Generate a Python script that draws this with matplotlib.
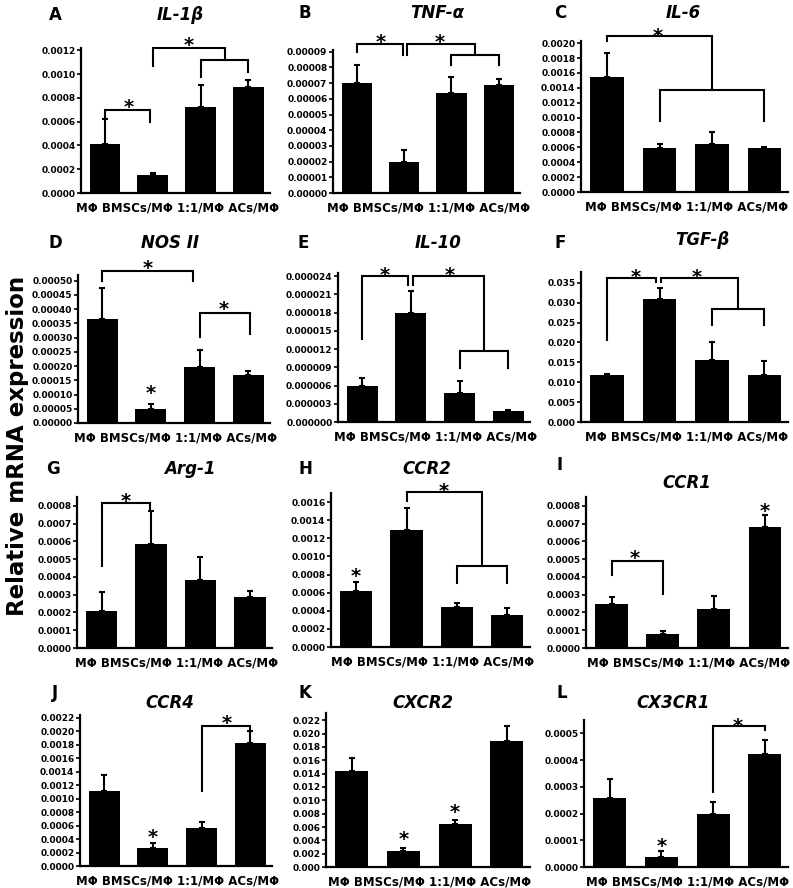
import numpy as np
import matplotlib.pyplot as plt

plt.rcParams['font.family'] = ['DejaVu Sans']
plt.rcParams['font.weight'] = 'bold'

groups = ["MΦ", "BMSCs/MΦ", "1:1/MΦ", "ACs/MΦ"]
genes = ["IL-1β", "TNF-α", "IL-6", "NOS II", "IL-10", "TGF-β",
         "Arg-1", "CCR2", "CCR1", "CCR4", "CXCR2", "CX3CR1"]
letters = list("ABCDEFGHIJKL")

# mean and (upper) error of each group, per gene
il1b_mean = [0.00041, 0.000149, 0.000724, 0.000895]
il1b_err = [0.000215, 0.000022, 0.000188, 0.000059]
tnfa_mean = [7.02e-5, 1.96e-5, 6.4e-5, 6.91e-5]
tnfa_err = [1.13e-5, 0.81e-5, 1.0e-5, 0.37e-5]
il6_mean = [0.001544, 0.00059, 0.00064, 0.00059]
il6_err = [0.000322, 0.00005, 0.000165, 0.000014]
nos2_mean = [0.000367, 0.0000505, 0.000197, 0.000168]
nos2_err = [0.000106, 0.0000152, 0.000061, 0.000014]
il10_mean = [6.0e-6, 18.0e-6, 4.7e-6, 1.8e-6]
il10_err = [1.2e-6, 3.6e-6, 2.0e-6, 0.2e-6]
tgfb_mean = [0.0117, 0.0308, 0.0157, 0.0118]
tgfb_err = [0.0003, 0.0029, 0.0045, 0.0035]
arg1_mean = [0.000206, 0.000586, 0.00038, 0.000285]
arg1_err = [0.000107, 0.000188, 0.000131, 0.000037]
ccr2_mean = [0.000622, 0.00129, 0.000444, 0.000352]
ccr2_err = [0.000093, 0.00024, 0.000045, 0.000081]
ccr1_mean = [0.000247, 0.0000772, 0.000217, 0.00068]
ccr1_err = [0.000041, 0.0000188, 0.000077, 0.00007]
ccr4_mean = [0.00111, 0.000272, 0.000568, 0.00183]
ccr4_err = [0.00024, 0.000064, 0.000084, 0.00017]
cxcr2_mean = [0.0144, 0.0024, 0.0065, 0.01885]
cxcr2_err = [0.002, 0.0005, 0.0006, 0.00235]
cx3cr1_mean = [0.000259, 0.0000375, 0.000198, 0.000423]
cx3cr1_err = [0.000072, 0.0000225, 0.000046, 0.000052]

# y axis: tick step, last tick, axis top, decimals
tick_step = [0.0002, 0.00001, 0.0002, 0.00005, 0.000003, 0.005,
             0.0001, 0.0002, 0.0001, 0.0002, 0.002, 0.0001]
tick_max = [0.0012, 0.00009, 0.002, 0.0005, 0.000024, 0.035,
            0.0008, 0.0016, 0.0008, 0.0022, 0.022, 0.0005]
y_top = [0.00122, 0.0000911, 0.00203, 0.00052, 0.0000245, 0.0377,
         0.00085, 0.0017, 0.00085, 0.00224, 0.0231, 0.00055]
decimals = [4, 5, 4, 5, 6, 3, 4, 4, 4, 4, 3, 4]

# significance brackets: (x1, x2, y, leg1 end, leg2 end), stars: (x, y)
il1b_br = [(0, 0.95, 0.000701, 0.000625, 0.000597), (1, 2.5, 0.00122, 0.00107, 0.00112),
           (2, 3, 0.00112, 0.00098, 0.00102)]
il1b_st = [(0.5, 0.00077), (1.75, 0.00129)]
tnfa_br = [(0, 0.97, 0.0000947, 0.000090, 0.0000879), (1.06, 2.5, 0.0000947, 0.0000879, 0.0000879),
           (2, 3, 0.0000879, 0.0000815, 0.0000815)]
tnfa_st = [(0.5, 0.0000996), (1.75, 0.0000996)]
il6_br = [(0, 2, 0.0021, 0.00203, 0.001365), (1, 3, 0.001365, 0.00096, 0.00096)]
il6_st = [(0.97, 0.00218)]
nos2_br = [(0, 1.87, 0.000534, 0.0005, 0.0005), (2, 3.03, 0.000387, 0.000303, 0.000312)]
nos2_st = [(0.94, 0.000565), (2.5, 0.00042), (1, 0.000124)]
il10_br = [(0, 0.94, 24e-6, 13.7e-6, 22.6e-6), (1.04, 2.5, 24e-6, 22.6e-6, 11.7e-6),
           (2, 3, 11.7e-6, 8.85e-6, 8.85e-6)]
il10_st = [(0.47, 25.1e-6), (1.8, 25.1e-6)]
tgfb_br = [(0, 0.93, 0.0362, 0.0205, 0.0352), (1.03, 2.5, 0.0362, 0.0352, 0.0285),
           (2, 3, 0.0285, 0.0243, 0.0243)]
tgfb_st = [(0.55, 0.038), (1.7, 0.038)]
arg1_br = [(0, 0.98, 0.000818, 0.000463, 0.000777)]
arg1_st = [(0.49, 0.00086)]
ccr2_br = [(1, 2.5, 0.001715, 0.00161, 0.000889), (2, 3, 0.000889, 0.000704, 0.000704)]
ccr2_st = [(1.73, 0.00179), (0, 0.00085)]
ccr1_br = [(0, 1, 0.000492, 0.00041, 0.000303)]
ccr1_st = [(0.46, 0.00054), (3, 0.000806)]
ccr4_br = [(2, 3, 0.00207, 0.00112, 0.00201)]
ccr4_st = [(2.52, 0.00221), (1, 0.00051)]
cxcr2_br = []
cxcr2_st = [(1, 0.005), (2, 0.0091)]
cx3cr1_br = [(2, 3, 0.000528, 0.00028, 0.000512)]
cx3cr1_st = [(2.48, 0.00055), (1, 0.0001)]

means = [il1b_mean, tnfa_mean, il6_mean, nos2_mean, il10_mean, tgfb_mean,
         arg1_mean, ccr2_mean, ccr1_mean, ccr4_mean, cxcr2_mean, cx3cr1_mean]
errs = [il1b_err, tnfa_err, il6_err, nos2_err, il10_err, tgfb_err,
        arg1_err, ccr2_err, ccr1_err, ccr4_err, cxcr2_err, cx3cr1_err]
brackets = [il1b_br, tnfa_br, il6_br, nos2_br, il10_br, tgfb_br,
            arg1_br, ccr2_br, ccr1_br, ccr4_br, cxcr2_br, cx3cr1_br]
stars = [il1b_st, tnfa_st, il6_st, nos2_st, il10_st, tgfb_st,
         arg1_st, ccr2_st, ccr1_st, ccr4_st, cxcr2_st, cx3cr1_st]

W, H = 793, 888
fig = plt.figure(figsize=(W / 100, H / 100), dpi=100)

# axes boxes in pixels: left, bottom, right, top
boxes = [(81, 193, 270, 48), (333, 193, 520, 50), (581, 192, 788, 41),
         (78, 423, 270, 275), (338, 422, 530, 273), (581, 422, 788, 272),
         (77, 648, 272, 497), (331, 647, 530, 493), (586, 648, 788, 497),
         (80, 866, 272, 715), (326, 867, 530, 713), (584, 867, 788, 720)]
# panel letter and title centres in pixels
letter_pos = [(55, 15), (305, 13), (560, 13), (55, 243), (303, 243), (560, 243),
              (53, 469), (305, 469), (560, 465), (55, 693), (305, 693), (562, 693)]
title_pos = [(180, 15), (437, 13), (683, 13), (170, 243), (438, 243), (702, 240),
             (190, 469), (427, 469), (687, 483), (170, 703), (423, 703), (673, 703)]

x = np.arange(len(groups))
for i in range(12):
    l, b, r, t = boxes[i]
    ax = fig.add_axes([l / W, 1 - b / H, (r - l) / W, (b - t) / H])
    ax.bar(x, means[i], width=0.64, color='black')
    ax.errorbar(x, means[i], yerr=[np.zeros(4), errs[i]], fmt='none',
                ecolor='black', elinewidth=1.5, capsize=2.5, capthick=1.5)
    for x1, x2, y, e1, e2 in brackets[i]:
        ax.plot([x1, x1, x2, x2], [e1, y, y, e2], color='black', lw=1.5,
                clip_on=False, solid_joinstyle='miter')
    for sx, sy in stars[i]:
        ax.annotate('*', (sx, sy), xytext=(0, -4.5), textcoords='offset points',
                    ha='center', va='center', fontsize=14, fontweight='bold',
                    annotation_clip=False)
    ax.set_xlim(-0.5, 3.45)
    ax.set_ylim(0, y_top[i])
    ticks = np.arange(0, tick_max[i] + tick_step[i] / 2, tick_step[i])
    ax.set_yticks(ticks)
    ax.set_yticklabels([f"{v:.{decimals[i]}f}" for v in ticks], fontsize=6.5,
                       fontweight='bold')
    ax.set_xticks([])
    ax.tick_params(axis='y', length=3, width=1.2, pad=1)
    for s in ['top', 'right']:
        ax.spines[s].set_visible(False)
    for s in ['left', 'bottom']:
        ax.spines[s].set_linewidth(1.6)
    ax.annotate(" ".join(groups), (0.51, 0), xycoords='axes fraction',
                xytext=(0, -11), textcoords='offset points', ha='center',
                va='center', fontsize=8.5, fontweight='bold')
    lx, ly = letter_pos[i]
    fig.text(lx / W, 1 - ly / H, letters[i], ha='center', va='center',
             fontsize=12, fontweight='bold')
    tx, ty = title_pos[i]
    fig.text(tx / W, 1 - ty / H, genes[i], ha='center', va='center',
             fontsize=12, fontweight='bold', style='italic')

fig.text(18 / W, 1 - 446 / H, "Relative mRNA expression", rotation=90,
         ha='center', va='center', fontsize=16.5, fontweight='bold')

fig.savefig("out.png", dpi=100)
